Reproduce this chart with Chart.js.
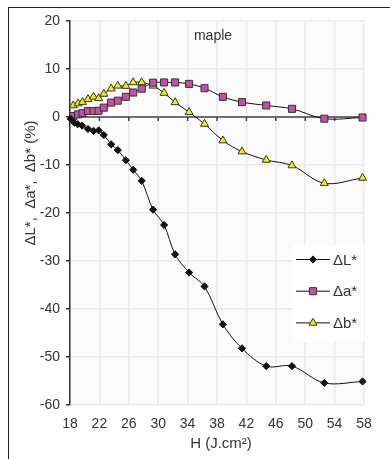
<!DOCTYPE html>
<html>
<head>
<meta charset="utf-8">
<script src="https://cdn.jsdelivr.net/npm/chart.js@4.4.0/dist/chart.umd.min.js"></script>
<style>
  html, body { margin: 0; padding: 0; background: #fff; }
  #wrap { position: relative; width: 390px; height: 459px; }
  #frame { position: absolute; left: 8px; top: 7px; right: 0; bottom: 0;
           border-top: 1.5px solid #222; border-left: 1.5px solid #222; pointer-events: none; }
</style>
</head>
<body>
<div id="wrap">
  <canvas id="chart" width="390" height="459"></canvas>
  <div id="frame"></div>
</div>
<script>
// fluence H (J.cm-2) for each measurement
const hL = [18.1, 18.6, 19.05, 19.65, 20.45, 21.2, 21.9, 22.6, 23.6, 24.5, 25.6, 26.6, 27.75,
            29.3, 30.8, 32.3, 34.2, 36.3, 38.8, 41.4, 44.7, 48.2, 52.6, 57.8];
const hAB = [18.45, 19.1, 19.7, 20.45, 21.2, 21.9, 22.6, 23.6, 24.5, 25.6, 26.6, 27.75,
             29.3, 30.8, 32.3, 34.2, 36.3, 38.8, 41.4, 44.7, 48.2, 52.6, 57.8];

const deltaL = [-0.4, -1.2, -1.5, -1.8, -2.5, -2.9, -2.8, -3.75, -5.7, -6.9, -9.0, -11.0, -13.3,
                -19.3, -22.5, -28.6, -32.4, -35.3, -43.2, -48.2, -51.9, -51.9, -55.4, -55.1];
const deltaA = [0.2, 0.55, 0.8, 1.25, 1.25, 1.3, 1.95, 3.0, 3.4, 4.2, 5.1, 5.9,
                7.15, 7.2, 7.2, 6.9, 6.0, 4.2, 3.1, 2.4, 1.7, -0.35, -0.1];
const deltaB = [2.4, 2.8, 3.1, 3.7, 4.2, 3.9, 4.8, 5.9, 6.5, 6.45, 7.2, 7.2,
                6.5, 5.0, 3.05, 1.0, -1.45, -4.9, -7.2, -8.95, -10.1, -13.8, -12.7];

const seriesNames = ['ΔL*', 'Δa*', 'Δb*'];
const xTitle = 'H (J.cm²)';
const yTitle = 'ΔL*,  Δa*,  Δb* (%)';
const panelTitle = 'maple';

const FONT = "'Liberation Sans', Arial, sans-serif";

function pts(xs, ys) { return xs.map((x, i) => ({ x, y: ys[i] })); }

const styles = [
  { pointStyle: 'rectRot', pointRadius: 3.6, backgroundColor: '#111', borderColor: '#111' },
  { pointStyle: 'rect', pointRadius: 5, backgroundColor: '#c54fa0', borderColor: '#333' },
  { pointStyle: 'triangle', pointRadius: 4.6, backgroundColor: '#f5f000', borderColor: '#333' }
];

const extras = {
  id: 'extras',
  beforeDraw(chart) {
    const { ctx, chartArea: a } = chart;
    ctx.save();
    ctx.fillStyle = '#fbfbfb';
    ctx.fillRect(a.left, a.top, a.right - a.left, a.bottom - a.top);
    ctx.restore();
  },
  beforeDatasetsDraw(chart) {
    // dark zero line with tick marks hanging below it
    const { ctx, chartArea: a, scales: { x, y } } = chart;
    const y0 = y.getPixelForValue(0);
    ctx.save();
    ctx.strokeStyle = '#444';
    ctx.lineWidth = 1.5;
    ctx.beginPath();
    ctx.moveTo(a.left, y0);
    ctx.lineTo(a.right, y0);
    x.ticks.forEach(t => {
      const px = x.getPixelForValue(t.value);
      ctx.moveTo(px, y0);
      ctx.lineTo(px, y0 + 4);
    });
    ctx.stroke();
    ctx.restore();
  },
  afterDraw(chart) {
    const { ctx, chartArea: a } = chart;
    ctx.save();
    ctx.fillStyle = '#333';
    ctx.textAlign = 'center';
    ctx.textBaseline = 'middle';

    ctx.font = '14px ' + FONT;
    ctx.fillText(panelTitle, (a.left + a.right) / 2 - 4, a.top + 15);

    ctx.font = '15px ' + FONT;
    ctx.fillText(xTitle, (a.left + a.right) / 2 + 4, 444);

    ctx.translate(31, 183);
    ctx.rotate(-Math.PI / 2);
    ctx.fillText(yTitle, 0, 0);
    ctx.restore();

    // legend box inside the plot
    const bx = a.right - 72, by = 245;
    ctx.save();
    ctx.fillStyle = '#ffffff';
    ctx.fillRect(bx, by, 72, 97);
    ctx.font = '15px ' + FONT;
    ctx.textBaseline = 'middle';
    seriesNames.forEach((name, i) => {
      const ly = by + 14.5 + i * 31.7;
      ctx.strokeStyle = '#111';
      ctx.lineWidth = 1;
      ctx.beginPath();
      ctx.moveTo(bx + 4, ly);
      ctx.lineTo(bx + 38, ly);
      ctx.stroke();
      const s = styles[i];
      ctx.fillStyle = s.backgroundColor;
      ctx.strokeStyle = s.borderColor;
      Chart.helpers.drawPoint(ctx, { pointStyle: s.pointStyle, radius: s.pointRadius, borderWidth: 1, rotation: 0 }, bx + 21, ly);
      ctx.fillStyle = '#333';
      ctx.fillText(name, bx + 41, ly + 1);
    });
    ctx.restore();
  }
};

new Chart(document.getElementById('chart'), {
  type: 'scatter',
  data: {
    datasets: [
      { label: seriesNames[0], data: pts(hL, deltaL), ...styles[0] },
      { label: seriesNames[1], data: pts(hAB, deltaA), ...styles[1] },
      { label: seriesNames[2], data: pts(hAB, deltaB), ...styles[2] }
    ].map(d => ({ ...d, showLine: true, borderWidth: 1, pointBorderWidth: 1,
                  pointBackgroundColor: d.backgroundColor, pointBorderColor: d.borderColor,
                  borderColor: '#111', tension: 0.35, clip: false }))
  },
  options: {
    responsive: false,
    animation: false,
    layout: { padding: { top: 21, right: 26, left: 0, bottom: 0 } },
    plugins: { legend: { display: false }, tooltip: { enabled: false } },
    scales: {
      x: {
        type: 'linear', min: 18, max: 58,
        ticks: { stepSize: 4, color: '#333', font: { size: 14, family: FONT }, padding: 11 },
        grid: { color: '#e9e9e9', lineWidth: 1.5, drawTicks: false },
        border: { display: false },
        afterFit(s) { s.height = 54; }
      },
      y: {
        min: -60, max: 20,
        ticks: { stepSize: 10, color: '#333', font: { size: 14, family: FONT }, padding: 6 },
        grid: { color: '#e9e9e9', lineWidth: 1.5, tickLength: 4, tickColor: '#333' },
        border: { color: '#333', width: 1.5 },
        afterFit(s) { s.width = 70; }
      }
    }
  },
  plugins: [extras]
});
</script>
</body>
</html>
